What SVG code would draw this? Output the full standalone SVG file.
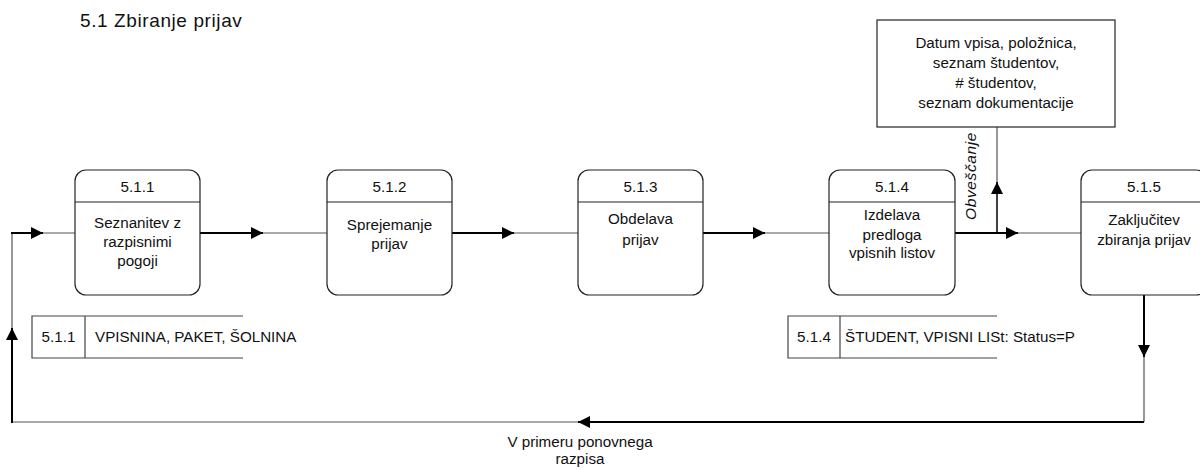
<svg xmlns="http://www.w3.org/2000/svg" width="1200" height="470" viewBox="0 0 1200 470">
<defs>
<marker id="ah" markerUnits="userSpaceOnUse" markerWidth="13" markerHeight="13" refX="12" refY="6" orient="auto">
<path d="M0,0 L12,6 L0,12 z" fill="#000"/>
</marker>
<style>
text{font-family:"Liberation Sans",Arial,sans-serif;font-size:15.2px;fill:#111;}
.c{text-anchor:middle;}
.proc{fill:#fff;stroke:#222;stroke-width:1.2;}
.div{stroke:#222;stroke-width:1.2;}
.store{fill:none;stroke:#444;stroke-width:1.2;}
.thick{fill:none;stroke:#000;stroke-width:2;}
.thin{fill:none;stroke:#555;stroke-width:1.2;}
.box{fill:#fff;stroke:#222;stroke-width:1.2;}
</style>
</defs>
<rect width="1200" height="470" fill="#fff"/>
<text x="80" y="27" style="font-size:19px;letter-spacing:0.6px">5.1 Zbiranje prijav</text>

<g id="connectors">
<!-- 5.1.1 -> 5.1.2 -->
<line class="thin" x1="250" y1="233" x2="327" y2="233"/>
<line class="thick" x1="200" y1="233" x2="263" y2="233" marker-end="url(#ah)"/>
<!-- 5.1.2 -> 5.1.3 -->
<line class="thin" x1="500" y1="233" x2="578" y2="233"/>
<line class="thick" x1="452" y1="233" x2="514" y2="233" marker-end="url(#ah)"/>
<!-- 5.1.3 -> 5.1.4 -->
<line class="thin" x1="752" y1="233" x2="829" y2="233"/>
<line class="thick" x1="703" y1="233" x2="765" y2="233" marker-end="url(#ah)"/>
<!-- 5.1.4 -> 5.1.5 -->
<line class="thin" x1="1006" y1="233" x2="1081" y2="233"/>
<line class="thick" x1="955" y1="233" x2="1018" y2="233" marker-end="url(#ah)"/>
<!-- Obvescanje -->
<line class="thin" x1="997" y1="193" x2="997" y2="127"/>
<line class="thick" x1="997" y1="233" x2="997" y2="182" marker-end="url(#ah)" style="stroke-width:1.5"/>
<!-- loop back -->
<line class="thin" x1="1144" y1="345" x2="1144" y2="422"/>
<line class="thick" x1="1144" y1="295" x2="1144" y2="357" marker-end="url(#ah)"/>
<line class="thin" x1="590" y1="422" x2="12" y2="422"/>
<line class="thick" x1="1144" y1="422" x2="578" y2="422" marker-end="url(#ah)"/>
<line class="thin" x1="12" y1="340" x2="12" y2="233"/>
<line class="thick" x1="12" y1="423" x2="12" y2="328" marker-end="url(#ah)"/>
<line class="thin" x1="31" y1="233" x2="75" y2="233"/>
<line class="thick" x1="11" y1="233" x2="43" y2="233" marker-end="url(#ah)"/>
<text class="c" x="580" y="447">V primeru ponovnega</text>
<text class="c" x="580" y="464">razpisa</text>
<text class="c" x="0" y="0" transform="translate(976,176) rotate(-90)" style="font-style:italic;font-size:15.5px;letter-spacing:0.6px">Obveščanje</text>
</g>

<g id="p511">
<rect class="proc" x="75" y="170" width="125" height="125" rx="11"/>
<line class="div" x1="75" y1="202" x2="200" y2="202"/>
<text class="c" x="137.5" y="192">5.1.1</text>
<text class="c" x="137.5" y="228">Seznanitev z</text>
<text class="c" x="137.5" y="247">razpisnimi</text>
<text class="c" x="137.5" y="266">pogoji</text>
</g>
<g id="p512">
<rect class="proc" x="327" y="170" width="125" height="125" rx="11"/>
<line class="div" x1="327" y1="202" x2="452" y2="202"/>
<text class="c" x="389.5" y="192">5.1.2</text>
<text class="c" x="389.5" y="230">Sprejemanje</text>
<text class="c" x="389.5" y="249">prijav</text>
</g>
<g id="p513">
<rect class="proc" x="578" y="170" width="125" height="125" rx="11"/>
<line class="div" x1="578" y1="202" x2="703" y2="202"/>
<text class="c" x="640.5" y="192">5.1.3</text>
<text class="c" x="640.5" y="224">Obdelava</text>
<text class="c" x="640.5" y="245">prijav</text>
</g>
<g id="p514">
<rect class="proc" x="829" y="170" width="126" height="125" rx="11"/>
<line class="div" x1="829" y1="202" x2="955" y2="202"/>
<text class="c" x="892" y="192">5.1.4</text>
<text class="c" x="892" y="220">Izdelava</text>
<text class="c" x="892" y="240">predloga</text>
<text class="c" x="892" y="258">vpisnih listov</text>
</g>
<g id="p515">
<rect class="proc" x="1081" y="170" width="126" height="125" rx="11"/>
<line class="div" x1="1081" y1="202" x2="1207" y2="202"/>
<text class="c" x="1144" y="192">5.1.5</text>
<text class="c" x="1144" y="225">Zaključitev</text>
<text class="c" x="1144" y="245">zbiranja prijav</text>
</g>

<g id="data">
<rect class="box" x="877" y="20" width="238" height="107"/>
<text class="c" x="996" y="48">Datum vpisa, položnica,</text>
<text class="c" x="996" y="68">seznam študentov,</text>
<text class="c" x="996" y="88"># študentov,</text>
<text class="c" x="996" y="108">seznam dokumentacije</text>
</g>

<g id="s511">
<path class="store" d="M243,316 H32 V358 H243 M85,316 V358"/>
<text class="c" x="58.5" y="342">5.1.1</text>
<text x="95" y="342">VPISNINA, PAKET, ŠOLNINA</text>
</g>
<g id="s514">
<path class="store" d="M997,316 H788 V358 H997 M840,316 V358"/>
<text class="c" x="814" y="342">5.1.4</text>
<text x="845" y="342">ŠTUDENT, VPISNI LISt: Status=P</text>
</g>
</svg>
